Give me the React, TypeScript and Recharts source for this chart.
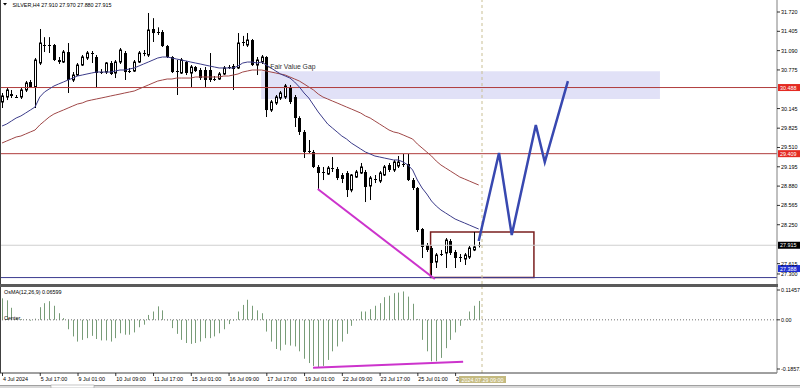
import React from "react";
import { ComposedChart, Bar, Line, XAxis, YAxis, ReferenceLine, ReferenceArea } from "recharts";

const FONT = "'Liberation Sans', Arial, Helvetica, sans-serif";
const FS = 5.4;

const OPEN = [30.252,30.333,30.382,30.35,30.333,30.448,30.578,30.497,30.888,31.198,31.182,31.182,30.937,30.904,31.067,30.611,30.692,30.855,30.97,31.051,30.986,30.74,30.741,30.888,30.725,30.904,31.051,30.757,30.757,30.904,31.04,31.019,31.443,31.394,31.394,31.165,30.986,30.757,30.725,30.904,30.725,30.823,30.774,30.774,30.774,30.636,30.627,30.709,30.815,30.839,30.807,31.22,31.182,31.263,30.855,30.904,30.986,30.121,30.236,30.317,30.333,30.497,30.333,29.991,29.763,29.46,29.436,29.192,29.12,29.077,29.17,29.159,29.061,29.094,28.816,29.028,29.094,29.11,28.882,28.99,28.963,29.061,29.224,29.143,29.208,29.24,29.241,28.979,28.849,28.18,27.919,27.87,27.642,27.78,27.789,27.984,27.805,27.735,27.691,27.723,27.838,27.91];
const HIGH = [30.399,30.48,30.448,30.366,30.48,30.595,30.611,30.97,31.443,31.31,31.31,31.198,30.986,31.1,31.214,30.741,30.888,31.019,31.084,31.084,31.019,30.79,30.904,30.921,30.937,31.133,31.084,30.807,30.937,31.084,31.1,31.704,31.62,31.47,31.426,31.182,31.0,30.937,30.97,30.921,30.855,30.839,30.807,30.823,31.051,30.676,30.741,30.839,30.855,30.872,31.377,31.33,31.377,31.28,30.986,31.019,31.0,30.285,30.366,30.431,30.546,30.529,30.366,30.02,29.795,29.632,29.469,29.224,29.192,29.208,29.355,29.192,29.094,29.126,29.077,29.143,29.257,29.143,29.045,29.061,29.126,29.224,29.257,29.306,29.371,29.404,29.404,29.012,28.865,28.196,27.951,27.903,27.789,27.838,28.033,28.016,27.838,27.772,27.789,27.903,28.131,27.97];
const LOW = [30.154,30.284,30.317,30.317,30.301,30.415,30.48,30.154,30.855,31.067,31.051,30.921,30.872,30.888,30.399,30.578,30.676,30.839,30.937,30.888,30.48,30.709,30.709,30.692,30.643,30.872,30.611,30.725,30.741,30.888,31.0,30.986,31.231,31.345,31.149,30.97,30.725,30.366,30.709,30.692,30.497,30.741,30.611,30.497,30.578,30.595,30.611,30.692,30.79,30.448,30.79,31.165,31.149,30.839,30.692,30.872,30.007,30.089,30.203,30.285,30.301,30.219,29.844,29.714,29.338,29.42,29.175,28.833,28.979,29.061,29.11,28.979,28.93,28.702,28.78,29.012,29.077,28.62,28.653,28.93,28.93,29.045,29.11,29.11,29.175,29.192,28.963,28.816,28.131,27.707,27.805,27.388,27.544,27.74,27.544,27.756,27.544,27.642,27.593,27.691,27.82,27.88];
const CLOSE = [30.35,30.448,30.35,30.333,30.448,30.562,30.497,30.937,31.214,31.182,31.17,30.937,30.904,31.067,30.611,30.692,30.855,30.986,31.051,31.04,30.725,30.757,30.888,30.709,30.904,31.1,30.741,30.774,30.904,31.051,31.051,31.426,31.377,31.41,31.165,30.986,30.741,30.774,30.937,30.725,30.823,30.757,30.643,30.611,30.611,30.627,30.709,30.807,30.823,30.79,31.214,31.231,31.263,30.855,30.937,30.986,30.121,30.252,30.333,30.399,30.513,30.252,29.991,29.763,29.436,29.453,29.192,29.094,29.11,29.175,29.175,29.012,28.996,28.816,29.061,29.11,29.192,28.865,29.012,28.996,29.094,29.192,29.143,29.273,29.273,29.232,28.979,28.849,28.164,27.887,27.838,27.626,27.756,27.772,28.0,27.789,27.707,27.723,27.756,27.87,27.887,27.915];
const MA_FAST = [29.86,29.893,29.942,29.991,30.024,30.072,30.121,30.17,30.333,30.415,30.464,30.513,30.546,30.578,30.611,30.643,30.676,30.692,30.709,30.725,30.741,30.741,30.741,30.741,30.758,30.774,30.774,30.79,30.807,30.839,30.872,30.904,30.937,30.97,30.986,30.986,30.97,30.953,30.937,30.921,30.904,30.888,30.872,30.855,30.839,30.823,30.807,30.807,30.807,30.807,30.839,30.888,30.904,30.904,30.888,30.904,30.855,30.807,30.758,30.709,30.676,30.643,30.578,30.497,30.399,30.317,30.203,30.089,29.991,29.893,29.828,29.763,29.697,29.648,29.583,29.534,29.485,29.436,29.404,29.371,29.355,29.338,29.322,29.306,29.306,29.273,29.224,29.143,28.979,28.849,28.751,28.637,28.555,28.49,28.441,28.392,28.343,28.31,28.278,28.245,28.212,28.18];
const MA_SLOW = [29.583,29.616,29.648,29.681,29.697,29.73,29.763,29.795,29.877,29.942,30.007,30.056,30.089,30.121,30.154,30.187,30.219,30.236,30.268,30.285,30.301,30.317,30.333,30.35,30.366,30.382,30.399,30.415,30.431,30.464,30.497,30.529,30.562,30.594,30.611,30.627,30.627,30.643,30.643,30.643,30.643,30.66,30.66,30.66,30.66,30.66,30.66,30.676,30.676,30.692,30.709,30.741,30.758,30.774,30.774,30.774,30.758,30.741,30.725,30.709,30.692,30.66,30.627,30.594,30.546,30.497,30.448,30.382,30.333,30.301,30.268,30.236,30.203,30.17,30.138,30.105,30.072,30.024,29.991,29.942,29.893,29.844,29.795,29.763,29.746,29.714,29.681,29.648,29.567,29.502,29.436,29.371,29.289,29.224,29.175,29.126,29.077,29.028,28.996,28.963,28.93,28.898];
const OSMA = [0.075,0.068,0.042,0.004,0.003,0.002,-0.003,0.004,0.044,0.058,0.065,0.049,0.023,0.006,-0.033,-0.058,-0.076,-0.07,-0.064,-0.056,-0.067,-0.072,-0.072,-0.076,-0.064,-0.047,-0.052,-0.052,-0.044,-0.026,-0.017,0.017,0.029,0.047,0.033,-0.002,-0.029,-0.049,-0.07,-0.081,-0.084,-0.081,-0.076,-0.064,-0.064,-0.058,-0.047,-0.033,-0.015,-0.003,0.029,0.052,0.07,0.049,0.033,0.023,-0.041,-0.076,-0.102,-0.107,-0.087,-0.09,-0.093,-0.11,-0.136,-0.151,-0.161,-0.165,-0.161,-0.14,-0.11,-0.093,-0.076,-0.049,-0.021,-0.002,0.029,0.029,0.037,0.049,0.058,0.079,0.084,0.093,0.095,0.099,0.081,0.056,0.003,-0.07,-0.11,-0.145,-0.145,-0.133,-0.099,-0.07,-0.044,-0.021,0.002,0.029,0.049,0.066];

const DATE_TICKS = [0, 8, 16, 24, 32, 40, 48, 56, 64, 72, 80, 88, 96];
const DATE_LABELS = ["4 Jul 2024", "5 Jul 17:00", "9 Jul 01:00", "10 Jul 09:00", "11 Jul 17:00", "15 Jul 01:00", "16 Jul 09:00", "17 Jul 17:00", "19 Jul 01:00", "22 Jul 09:00", "23 Jul 17:00", "25 Jul 01:00", "26 Jul 09:00"];
const PRICE_TICKS = [31.72, 31.405, 31.09, 30.775, 30.145, 29.825, 29.51, 29.195, 28.88, 28.565, 28.25, 27.615, 27.3];
const OSMA_TICKS = [0.11457, 0, -0.18571];

const PROJ_X = [101, 105.3, 108, 113.1, 115, 119.9];
const PROJ_Y = [27.984, 29.42, 28.082, 29.877, 29.273, 30.594];
const DIV_PRICE_X = [66.9, 91.7];
const DIV_PRICE_Y = [28.833, 27.365];
const DIV_OSMA_X = [65.9, 97.7];
const DIV_OSMA_Y = [-0.1676, -0.1467];

const FVG = { x1: 54.9, x2: 139.4, y1: 30.3, y2: 30.752 };
const RANGE_BOX = { x1: 90.8, x2: 112.7, y1: 27.39, y2: 28.13 };
const CURSOR_X = 101.7;
const CURSOR_LABEL = "2024.07.29 09:00";

const X_DOMAIN: [number, number] = [-0.424, 164.2];
const PRICE_DOMAIN: [number, number] = [27.283, 31.916];
const OSMA_DOMAIN: [number, number] = [-0.18571, 0.11457];

const candles = OPEN.map((o, i) => ({
  i, open: o, high: HIGH[i], low: LOW[i], close: CLOSE[i], maFast: MA_FAST[i], maSlow: MA_SLOW[i],
}));
const osmaData = OSMA.map((v, i) => ({ i, osma: v }));
const projData = PROJ_X.map((x, k) => ({ i: x, v: PROJ_Y[k] }));
const divPrice = DIV_PRICE_X.map((x, k) => ({ i: x, v: DIV_PRICE_Y[k] }));
const divOsma = DIV_OSMA_X.map((x, k) => ({ i: x, v: DIV_OSMA_Y[k] }));

function Candle(props: any) {
  const { x, y, width, height, payload } = props;
  if (x == null || y == null || !payload) return null;
  const cx = Math.round(x + width / 2) + 0.5;
  const top = Math.min(y, y + height);
  const h = Math.abs(height);
  const span = payload.high - payload.low;
  const k = span > 0 ? h / span : 0;
  const yO = top + (payload.high - payload.open) * k;
  const yC = top + (payload.high - payload.close) * k;
  const bTop = Math.min(yO, yC);
  const bBot = Math.max(yO, yC);
  const bull = payload.close > payload.open;
  const bh = bBot - bTop;
  let body;
  if (bh < 1.3) {
    const ym = Math.round((bTop + bBot) / 2) + 0.5;
    body = <line x1={cx - 1.5} x2={cx + 1.5} y1={ym} y2={ym} stroke="#000" strokeWidth={1} />;
  } else if (bull) {
    body = <rect x={cx - 1} y={bTop} width={2} height={bh} fill="#fff" stroke="#000" strokeWidth={1} />;
  } else {
    body = <rect x={cx - 1.5} y={bTop} width={3} height={bh} fill="#000" />;
  }
  return (
    <g>
      <line x1={cx} x2={cx} y1={top} y2={top + h} stroke="#000" strokeWidth={1} />
      {body}
    </g>
  );
}

function HistBar(props: any) {
  const { x, y, width, height } = props;
  if (x == null || y == null) return null;
  const cx = Math.round(x + width / 2) + 0.5;
  const t = Math.min(y, y + height);
  const b = Math.max(y, y + height);
  return <line x1={cx} x2={cx} y1={t} y2={b} stroke="#789c78" strokeWidth={1} />;
}

function PriceTick(props: any) {
  const { x, y, payload } = props;
  const v = payload.value as number;
  const yy = v === 27.3 ? y - 9 : y;
  return (
    <g>
      <line x1={x} x2={x + 3} y1={yy} y2={yy} stroke="#000" strokeWidth={0.8} />
      <text x={x + 4} y={yy + 2} fontSize={FS} fontFamily={FONT} fill="#000">{v.toFixed(3)}</text>
    </g>
  );
}

function OsmaTick(props: any) {
  const { x, y, payload } = props;
  const v = payload.value as number;
  const yy = v > 0.1 ? y + 3 : v < -0.1 ? y - 4 : y;
  const label = v === 0 ? "0.00" : v.toFixed(5);
  return (
    <g>
      <line x1={x} x2={x + 3} y1={yy} y2={yy} stroke="#000" strokeWidth={0.8} />
      <text x={x + 4} y={yy + 2} fontSize={FS} fontFamily={FONT} fill="#000">{label}</text>
    </g>
  );
}

function DateTick(props: any) {
  const { x, y, payload } = props;
  const idx = DATE_TICKS.indexOf(payload.value);
  if (idx < 0) return null;
  return (
    <g>
      <line x1={x + 0.5} x2={x + 0.5} y1={y} y2={y + 3} stroke="#000" strokeWidth={0.8} />
      <text x={x + 1} y={y + 7.5} fontSize={FS} fontFamily={FONT} fill="#000">{DATE_LABELS[idx]}</text>
    </g>
  );
}

function PriceTag(props: any) {
  const vb = props.viewBox || {};
  const { text, bg, dy = 0 } = props;
  const x0 = (vb.x ?? 0) + (vb.width ?? 0) + 1;
  const yc = (vb.y ?? 0) + dy;
  return (
    <g>
      <rect x={x0} y={yc - 3.5} width={23} height={7} fill={bg} />
      <text x={x0 + 2} y={yc + 2} fontSize={FS} fontFamily={FONT} fill="#fff">{text}</text>
    </g>
  );
}

export default function App() {
  return (
    <div style={{ position: "absolute", left: 0, top: 0, width: 800, height: 388, background: "#fff", overflow: "hidden" }}>
      <style>{"body{margin:0;background:#fff}"}</style>
      <div style={{ position: "absolute", left: 0, top: 0 }}>
        <ComposedChart width={800} height={284} data={candles} margin={{ top: 0, right: 0, bottom: 0, left: 0 }}>
          <XAxis dataKey="i" type="number" domain={X_DOMAIN} allowDataOverflow hide />
          <YAxis
            orientation="right"
            width={23}
            type="number"
            domain={PRICE_DOMAIN}
            allowDataOverflow
            ticks={PRICE_TICKS}
            interval={0}
            tickSize={0}
            tickMargin={0}
            tickLine={false}
            axisLine={{ stroke: "#808080" }}
            tick={<PriceTick />}
          />
          <ReferenceArea x1={FVG.x1} x2={FVG.x2} y1={FVG.y1} y2={FVG.y2} fill="#dcdcf6" fillOpacity={0.85} stroke="none" ifOverflow="hidden" />
          <ReferenceLine y={30.488} stroke="#b03c3c" strokeWidth={1} label={<PriceTag text="30.488" bg="#e42a22" />} />
          <ReferenceLine y={29.409} stroke="#b03c3c" strokeWidth={1} label={<PriceTag text="29.409" bg="#e42a22" />} />
          <ReferenceLine y={27.915} stroke="#cfcfcf" strokeWidth={1} label={<PriceTag text="27.915" bg="#000" />} />
          <ReferenceLine y={27.388} stroke="#3b3b8f" strokeWidth={1} label={<PriceTag text="27.388" bg="#1f30d2" dy={-9} />} />
          <ReferenceLine x={CURSOR_X} stroke="#c9bf94" strokeDasharray="3 3" strokeWidth={1} />
          <ReferenceArea x1={RANGE_BOX.x1} x2={RANGE_BOX.x2} y1={RANGE_BOX.y1} y2={RANGE_BOX.y2} fill="none" stroke="#7a1f1f" strokeWidth={1.5} />
          <Line dataKey="maSlow" stroke="#a04848" strokeWidth={1} dot={false} activeDot={false} isAnimationActive={false} />
          <Line dataKey="maFast" stroke="#3c3c8a" strokeWidth={1} dot={false} activeDot={false} isAnimationActive={false} />
          <Bar dataKey={(d: any) => [d.low, d.high]} barSize={3} shape={<Candle />} activeBar={false} isAnimationActive={false} />
          <Line data={divPrice} dataKey="v" stroke="#cc33cc" strokeWidth={2} dot={false} activeDot={false} isAnimationActive={false} />
          <Line data={projData} dataKey="v" stroke="#3848b0" strokeWidth={2.5} dot={false} activeDot={false} isAnimationActive={false} strokeLinejoin="miter" />
        </ComposedChart>
      </div>
      <div style={{ position: "absolute", left: 0, top: 286 }}>
        <ComposedChart width={800} height={102} data={osmaData} margin={{ top: 1, right: 0, bottom: 0, left: 0 }}>
          <XAxis
            dataKey="i"
            type="number"
            domain={X_DOMAIN}
            allowDataOverflow
            ticks={DATE_TICKS}
            interval={0}
            height={15}
            tickSize={0}
            tickMargin={0}
            tickLine={false}
            axisLine={{ stroke: "#404040" }}
            tick={<DateTick />}
          />
          <YAxis
            orientation="right"
            width={23}
            type="number"
            domain={OSMA_DOMAIN}
            allowDataOverflow
            ticks={OSMA_TICKS}
            interval={0}
            tickSize={0}
            tickMargin={0}
            tickLine={false}
            axisLine={{ stroke: "#808080" }}
            tick={<OsmaTick />}
          />
          <ReferenceLine y={0} stroke="#707070" strokeDasharray="1 2" strokeWidth={1} />
          <Bar dataKey="osma" barSize={1} shape={<HistBar />} activeBar={false} isAnimationActive={false} />
          <Line data={divOsma} dataKey="v" stroke="#cc33cc" strokeWidth={2} dot={false} activeDot={false} isAnimationActive={false} />
          <ReferenceLine x={CURSOR_X} stroke="#c9bf94" strokeDasharray="3 3" strokeWidth={1} />
        </ComposedChart>
      </div>
      <svg width={800} height={388} style={{ position: "absolute", left: 0, top: 0, pointerEvents: "none" }}>
        <line x1={0.5} x2={0.5} y1={0} y2={373} stroke="#404040" strokeWidth={1} />
        <rect x={0} y={284} width={778} height={3} fill="#5a5a5a" />
        <path d="M3,3 L7,3 L5,5.5 Z" fill="#000" />
        <text x={12.5} y={6.5} fontSize={FS} fontFamily={FONT} fill="#000">{"SILVER,H4  27.910 27.970 27.880 27.915"}</text>
        <text x={268} y={68.5} fontSize={6.8} fontFamily={FONT} fill="#333">-Fair Value Gap</text>
        <text x={4} y={293.5} fontSize={FS} fontFamily={FONT} fill="#000">OsMA(12,26,9) 0.06599</text>
        <text x={4} y={319.5} fontSize={FS} fontFamily={FONT} fill="#000">Center</text>
        <rect x={459} y={376} width={47} height={7} fill="#c4ba80" />
        <text x={482.5} y={381.8} textAnchor="middle" fontSize={FS} fontFamily={FONT} fill="#fff">{CURSOR_LABEL}</text>
        <rect x={0} y={385} width={800} height={3} fill="#d8d8d8" />
        <line x1={0} x2={800} y1={385.5} y2={385.5} stroke="#a0a0a0" strokeWidth={1} />
        <rect x={51} y={385} width={43} height={3} fill="#fff" stroke="#a0a0a0" strokeWidth={0.6} />
      </svg>
    </div>
  );
}
